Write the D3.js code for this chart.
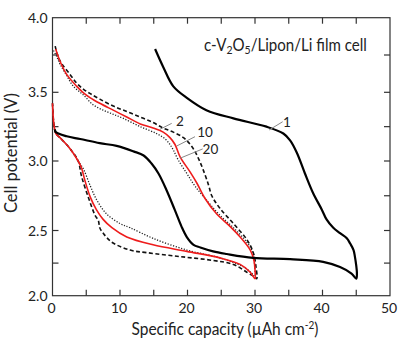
<!DOCTYPE html>
<html><head><meta charset="utf-8">
<script src="https://cdn.jsdelivr.net/npm/d3@7"></script>
<style>body{margin:0;background:#fff}svg{display:block}text{font-family:Lato,"Open Sans",sans-serif;fill:#222}</style>
</head><body><svg id="c" width="406" height="350"></svg>
<script>
// ---- data (capacity µAh cm-2, potential V) ----
const cycle1 = [[15.2,3.79],[16.4,3.67],[17.9,3.54],[19.9,3.46],[22.8,3.37],[26.8,3.31],[31.7,3.25],[34.2,3.20],[35.2,3.15],[36.2,3.06],[37.4,2.91],[38.6,2.77],[39.9,2.65],[40.6,2.58],[41.6,2.52],[42.6,2.48],[43.6,2.44],[44.1,2.40],[44.6,2.35],[44.8,2.30],[45.0,2.23],[45.1,2.17],[45.0,2.13],
  [44.3,2.17],[42.6,2.22],[40.1,2.26],[35.2,2.28],[29.7,2.29],[25.8,2.32],[23.8,2.34],[21.9,2.37],[20.9,2.39],[19.9,2.45],[19.1,2.53],[18.1,2.65],[16.9,2.79],[15.7,2.91],[14.7,2.98],[13.5,3.04],[12.0,3.07],[9.5,3.11],[7.0,3.13],[4.1,3.16],[2.1,3.18],[0.5,3.21],[0.35,3.23]];
const cycle2 = [[0.4,3.81],[0.8,3.74],[1.4,3.69],[2.6,3.62],[3.6,3.56],[4.6,3.52],[5.6,3.49],[7.0,3.45],[9.0,3.40],[11.0,3.36],[13.0,3.32],[14.9,3.28],[16.4,3.24],[17.9,3.21],[19.4,3.17],[20.4,3.12],[21.1,3.07],[21.7,3.01],[22.3,2.94],[23.1,2.83],[23.6,2.75],[24.8,2.66],[26.8,2.55],[28.8,2.43],[29.75,2.33],[30.15,2.22],[30.25,2.13],
  [29.75,2.15],[28.8,2.18],[26.8,2.24],[23.8,2.27],[18.9,2.30],[14.0,2.33],[11.5,2.35],[8.8,2.41],[7.5,2.48],[7.0,2.52],[6.8,2.57],[6.3,2.61],[5.3,2.74],[4.3,2.89],[3.8,3.00],[2.6,3.09],[1.1,3.17],[0.5,3.20],[0.2,3.27],[0.0,3.42]];
const cycle10 = [[0.47,3.79],[1.1,3.71],[2.1,3.62],[3.6,3.54],[4.5,3.50],[5.6,3.46],[7.0,3.42],[9.0,3.37],[11.0,3.32],[13.0,3.27],[14.9,3.24],[16.4,3.21],[17.4,3.17],[18.15,3.12],[18.9,3.03],[20.4,2.92],[21.4,2.84],[22.6,2.73],[24.3,2.62],[26.3,2.53],[27.8,2.45],[29.3,2.35],[29.85,2.27],[30.0,2.20],[30.0,2.13],
  [29.3,2.18],[27.8,2.24],[24.8,2.29],[19.9,2.34],[14.9,2.39],[11.0,2.45],[8.8,2.52],[7.5,2.58],[6.5,2.65],[5.6,2.74],[4.8,2.86],[4.3,2.95],[3.8,3.00],[2.6,3.09],[1.1,3.17],[0.5,3.20],[0.2,3.27],[0.0,3.42]];
const cycle20 = [[0.15,3.78],[0.62,3.74],[1.1,3.69],[2.0,3.62],[3.1,3.54],[4.6,3.48],[6.0,3.41],[7.5,3.37],[9.0,3.34],[10.5,3.31],[13.0,3.25],[15.4,3.20],[16.7,3.16],[17.4,3.12],[17.9,3.08],[18.6,3.01],[19.9,2.91],[21.1,2.82],[22.8,2.72],[24.8,2.61],[26.8,2.52],[28.8,2.41],[29.7,2.33],[29.96,2.22],[30.04,2.14],
  [29.75,2.16],[28.3,2.22],[24.8,2.29],[19.9,2.35],[14.9,2.44],[11.5,2.52],[10.0,2.55],[8.0,2.62],[6.55,2.72],[5.6,2.82],[4.6,2.94],[3.8,3.00],[2.6,3.09],[1.1,3.17],[0.5,3.20],[0.2,3.27],[0.0,3.42]];
const xTicks = [0,10,20,30,40,50];
const yTicks = [2.0,2.5,3.0,3.5,4.0];
const labels = ["1","2","10","20"];
const labelPos = [[34.74,3.277],[18.89,3.286],[22.59,3.209],[23.4,3.081]];
const leaders = [[[32.1,3.226],[34.1,3.286]],[[15.93,3.231],[17.66,3.274]],[[18.4,3.109],[21.11,3.177]],[[18.89,3.02],[22.25,3.088]]];

const svg = d3.select("#c");
const x = d3.scaleLinear().domain([0,50]).range([52.5,390]);
const y = d3.scaleLinear().domain([2,2.5,3,3.5,4]).range([295.7,230.5,161,92.3,17.7]);

// frame
svg.append("rect").attr("x",x(0)).attr("y",y(4)).attr("width",x(50)-x(0)).attr("height",y(2)-y(4))
  .attr("fill","none").attr("stroke","#333").attr("stroke-width",1.2);

const tl = 6;
const g = svg.append("g").attr("stroke","#333").attr("stroke-width",1.2);
d3.range(5,50,5).forEach(v=>{
  g.append("line").attr("x1",x(v)).attr("x2",x(v)).attr("y1",y(2)).attr("y2",y(2)-tl);
  g.append("line").attr("x1",x(v)).attr("x2",x(v)).attr("y1",y(4)).attr("y2",y(4)+tl);
});
d3.range(2.25,4,0.25).forEach(v=>{
  g.append("line").attr("y1",y(v)).attr("y2",y(v)).attr("x1",x(0)).attr("x2",x(0)+tl);
  g.append("line").attr("y1",y(v)).attr("y2",y(v)).attr("x1",x(50)).attr("x2",x(50)-tl);
});

svg.selectAll(".xt").data(xTicks).join("text").attr("x",d=>x(d)-1).attr("y",313)
  .attr("text-anchor","middle").attr("font-size",14).text(d=>d);
svg.selectAll(".yt").data(yTicks).join("text").attr("x",47.5).attr("y",d=>y(d)+5)
  .attr("text-anchor","end").attr("font-size",14).text(d=>d.toFixed(1));

// helper: squeeze a text horizontally to a target width (Calibri-like narrow face)
function fit(sel, target){
  const w = sel.node().getComputedTextLength();
  return target / w;
}

// x axis title
const gx = svg.append("g");
const xt = gx.append("text").attr("x",0).attr("y",0).attr("text-anchor","middle").attr("font-size",17);
xt.append("tspan").text("Specific capacity (µAh cm");
xt.append("tspan").attr("font-size",11).attr("dy",-6.5).text("-2");
xt.append("tspan").attr("dy",6.5).text(")");
gx.attr("transform",`translate(225,335) scale(${fit(xt,187)},1)`);

// y axis title
const gy = svg.append("g");
const yt = gy.append("text").attr("text-anchor","middle").attr("font-size",17).text("Cell potential (V)");
gy.attr("transform",`translate(17,153) rotate(-90) scale(${fit(yt,120)},1)`);

// title
const gt = svg.append("g");
const tt = gt.append("text").attr("x",0).attr("y",0).attr("font-size",16.5);
tt.append("tspan").text("c-V");
tt.append("tspan").attr("font-size",11.5).attr("dy",3.5).text("2");
tt.append("tspan").attr("dy",-3.5).text("O");
tt.append("tspan").attr("font-size",11.5).attr("dy",3.5).text("5");
tt.append("tspan").attr("dy",-3.5).text("/Lipon/Li film cell");
gt.attr("transform",`translate(204,50.5) scale(${fit(tt,163)},1)`);

// curves
const line = d3.line().x(d=>x(d[0])).y(d=>y(d[1])).curve(d3.curveCatmullRom.alpha(0.5));
const curves = [
  {d:cycle20, stroke:"#222", w:1.3, dash:"1.2,1.6"},
  {d:cycle2, stroke:"#111", w:1.6, dash:"4,2.5"},
  {d:cycle10, stroke:"#ee1c1c", w:1.6, dash:null},
  {d:cycle1, stroke:"#000", w:2.2, dash:null}
];
curves.forEach(c=>{
  svg.append("path").attr("d",line(c.d)).attr("fill","none").attr("stroke",c.stroke)
    .attr("stroke-width",c.w).attr("stroke-dasharray",c.dash).attr("stroke-linejoin","round");
});

// annotations
leaders.forEach(l=>{
  svg.append("line").attr("x1",x(l[0][0])).attr("y1",y(l[0][1])).attr("x2",x(l[1][0])).attr("y2",y(l[1][1]))
    .attr("stroke","#888").attr("stroke-width",1);
});
svg.selectAll(".lab").data(labels).join("text").attr("x",(d,i)=>x(labelPos[i][0])).attr("y",(d,i)=>y(labelPos[i][1])+4.5)
  .attr("text-anchor","middle").attr("font-size",13.5).text(d=>d);
</script></body></html>
